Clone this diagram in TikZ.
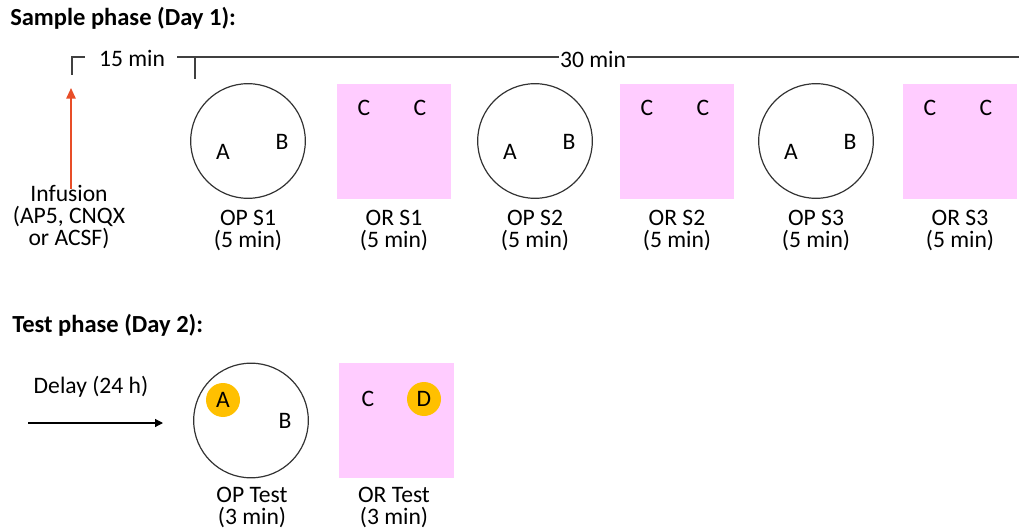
\documentclass[tikz,border=0pt]{standalone}
\usepackage{fontspec}
\setmainfont{Carlito}
\usepackage{xcolor}
\usetikzlibrary{arrows.meta,positioning}

\definecolor{arenapink}{RGB}{255,204,255}
\definecolor{objgold}{RGB}{255,192,0}
\definecolor{infred}{RGB}{232,78,40}

\tikzset{
  arena/.style={circle, draw=black!80, line width=0.9pt, minimum size=86pt, inner sep=0pt},
  openbox/.style={fill=arenapink, minimum size=86pt, inner sep=0pt},
  obj/.style={inner sep=0pt},
  novel/.style={circle, fill=objgold, minimum size=25.5pt, inner sep=0pt},
  lbl/.style={align=center, inner sep=0pt},
  phase/.style={font=\bfseries\fontsize{18.4}{21}\selectfont, anchor=west, inner sep=0pt},
  tline/.style={line width=0.8pt, black!75},
}

\begin{document}
\begin{tikzpicture}[x=0.75pt, y=-0.75pt, font=\fontsize{17.7}{16.5}\selectfont]
  \useasboundingbox (0,0) rectangle (1019,530);

  % Day 1: sample phase
  \node[phase] (sample) at (10,18) {Sample phase (Day 1):};

  % time line above the sessions
  \coordinate (b0) at (72,75);
  \coordinate (b1) at (72,57);
  \coordinate (b2) at (85,57);
  \coordinate (l0) at (177,57);
  \coordinate (l1) at (1019,57);
  \coordinate (k0) at (195,57);
  \coordinate (k1) at (195,79);
  \draw[tline] (b0) -- (b1) -- (b2);
  \draw[tline] (l0) -- (l1);
  \draw[tline] (k0) -- (k1);
  \node[inner sep=0pt] (m15) at (132,58) {15 min};
  \node[fill=white, inner sep=1pt] (m30) at (593,59) {30 min};

  % infusion
  \node[lbl] (infu) at (69,217) {Infusion\\(AP5, CNQX\\or ACSF)};
  \coordinate (inftip) at (71,88);
  \draw[infred, line width=1.3pt, -{Triangle[width=7pt,length=8pt]}]
    ([yshift=-3pt]infu.north -| inftip) -- (inftip);

  % three sample sessions: place arena, then open field
  \foreach \s/\cx/\bx in {1/248/394, 2/535/677, 3/816/960} {
    \node[arena] (op\s) at (\cx,141) {};
    \node[obj] (a\s) at ([shift={(-25,11)}]op\s.center) {A};
    \node[obj] (b\s) at ([shift={(34,1)}]op\s.center) {B};
    \node[lbl] (opl\s) at (\cx,230) {OP S\s\\(5 min)};
    \node[openbox] (or\s) at (\bx,141.5) {};
    \node[obj] (ca\s) at ([shift={(-30,-34)}]or\s.center) {C};
    \node[obj] (cb\s) at ([shift={(26,-34)}]or\s.center) {C};
    \node[lbl] (orl\s) at (\bx,230) {OR S\s\\(5 min)};
  }

  % Day 2: test phase
  \node[phase] (test) at (12,325) {Test phase (Day 2):};
  \node[inner sep=0pt] (delay) at (91,387) {Delay (24 h)};
  \coordinate (d0) at (28,423);
  \coordinate (d1) at (163,423);
  \draw[line width=0.9pt, -{Triangle[width=6pt,length=6pt]}] (d0) -- (d1);

  \node[arena] (opt) at (251,420.5) {};
  \node[novel] (at) at (223,400) {A};
  \node[obj] (bt) at (285,421) {B};
  \node[lbl] (optl) at (252,507) {OP Test\\(3 min)};
  \node[openbox] (ort) at (396.5,420.5) {};
  \node[obj] (ct) at (368,399) {C};
  \node[novel] (dt) at (424,399) {D};
  \node[lbl] (ortl) at (394,507) {OR Test\\(3 min)};
\end{tikzpicture}
\end{document}
